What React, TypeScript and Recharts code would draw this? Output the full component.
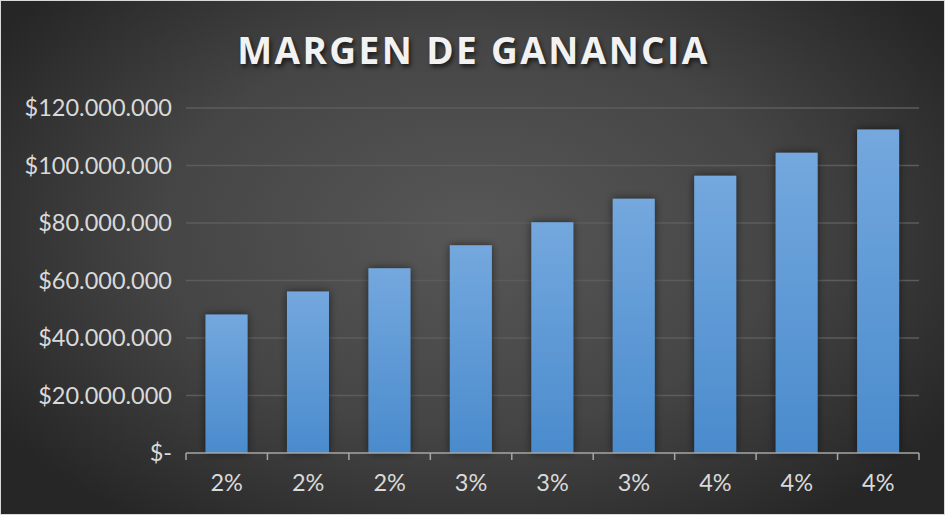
import { BarChart, Bar, XAxis, YAxis, CartesianGrid } from 'recharts';

const categories = ['2%', '2%', '2%', '3%', '3%', '3%', '4%', '4%', '4%'];
const margen = [48200000, 56200000, 64300000, 72300000, 80300000, 88400000, 96400000, 104400000, 112500000];
const yTicks = [0, 20000000, 40000000, 60000000, 80000000, 100000000, 120000000];
const boundaryTicks = [0, 1, 2, 3, 4, 5, 6, 7, 8, 9];

const data = categories.map((c, i) => ({ name: c, value: margen[i], idx: i + 0.5 }));

const fmt = (v: number) => (v === 0 ? '$-' : '$' + v.toLocaleString('de-DE'));

const tickFont = { fill: '#d9d9d9', fontSize: 23.5, fontFamily: 'Lato, "Open Sans", sans-serif' };

const App: React.FC = () => {
  return (
    <div
      style={{
        position: 'absolute',
        left: 0,
        top: 0,
        width: 945,
        height: 515,
        boxSizing: 'border-box',
        border: '1px solid #d9d9d9',
        background: 'radial-gradient(ellipse 60% 70% at 50% 45%, #575757 0%, #454545 55%, #262626 100%)',
        overflow: 'hidden',
      }}
    >
      <style>{'body{margin:0}'}</style>
      <div
        style={{
          position: 'absolute',
          top: 23,
          left: 0,
          width: 945,
          textAlign: 'center',
          color: '#f2f2f2',
          fontFamily: '"Open Sans", sans-serif',
          fontWeight: 700,
          fontSize: 37,
          letterSpacing: 2.4,
          textShadow: '2px 3px 4px rgba(0,0,0,0.6)',
        }}
      >
        MARGEN DE GANANCIA
      </div>
      <BarChart
        width={943}
        height={513}
        data={data}
        margin={{ top: 107, right: 25, bottom: 0, left: -1 }}
        barCategoryGap="24%"
        style={{ position: 'absolute', left: 0, top: 0 }}
      >
        <defs>
          <linearGradient id="barFill" x1="0" y1="0" x2="0" y2="1">
            <stop offset="0%" stopColor="#74a8de" />
            <stop offset="100%" stopColor="#4a8bcd" />
          </linearGradient>
          <filter id="shadow" x="-30%" y="-10%" width="160%" height="120%">
            <feDropShadow dx="0" dy="0" stdDeviation="4" floodColor="#000" floodOpacity="0.55" />
          </filter>
        </defs>
        <CartesianGrid
          vertical={false}
          xAxisId="cats"
          horizontalValues={yTicks.slice(1)}
          stroke="#5c5c5c"
          strokeWidth={1.5}
        />
        <XAxis
          xAxisId={0}
          dataKey="idx"
          type="number"
          domain={[0, 9]}
          ticks={boundaryTicks}
          height={8}
          tickFormatter={() => ''}
          tickSize={7}
          tickLine={{ stroke: '#a6a6a6', strokeWidth: 1.5 }}
          axisLine={{ stroke: '#a6a6a6', strokeWidth: 1.5 }}
        />
        <XAxis
          xAxisId="cats"
          dataKey="name"
          height={53}
          tickLine={false}
          axisLine={false}
          tickSize={0}
          tickMargin={13}
          tick={tickFont}
          interval={0}
        />
        <YAxis
          width={186}
          domain={[0, 120000000]}
          ticks={yTicks}
          tickFormatter={fmt}
          axisLine={false}
          tickLine={false}
          tickSize={0}
          tickMargin={14}
          tick={tickFont}
        />
        <Bar xAxisId="cats" dataKey="value" fill="url(#barFill)" filter="url(#shadow)" isAnimationActive={false} />
      </BarChart>
    </div>
  );
};

export default App;
